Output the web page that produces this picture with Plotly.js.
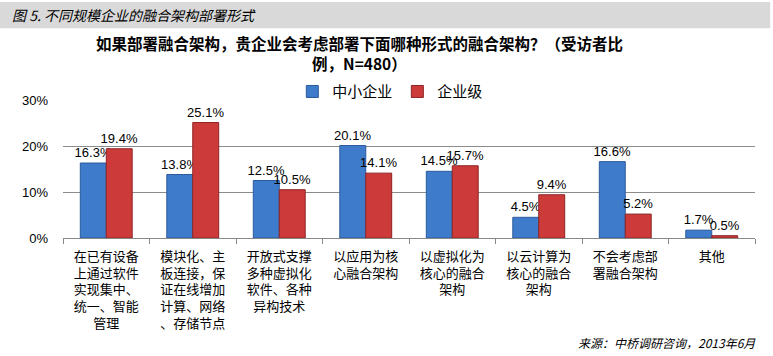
<!DOCTYPE html>
<html><head><meta charset="utf-8">
<script src="https://cdn.plot.ly/plotly-3.0.1.min.js"></script>
<style>html,body{margin:0;padding:0;background:#fff;}#chart{width:773px;height:356px;}</style>
</head><body><div id="chart"></div>
<script>
const categories = [
  "在已有设备<br>上通过软件<br>实现集中、<br>统一、智能<br>管理",
  "模块化、主<br>板连接，保<br>证在线增加<br>计算、网络<br>、存储节点",
  "开放式支撑<br>多种虚拟化<br>软件、各种<br>异构技术",
  "以应用为核<br>心融合架构",
  "以虚拟化为<br>核心的融合<br>架构",
  "以云计算为<br>核心的融合<br>架构",
  "不会考虑部<br>署融合架构",
  "其他"
];
const smeValues = [16.3, 13.8, 12.5, 20.1, 14.5, 4.5, 16.6, 1.7];
const entValues = [19.4, 25.1, 10.5, 14.1, 15.7, 9.4, 5.2, 0.5];
const seriesNames = ["中小企业", "企业级"];
const yTicks = [0, 10, 20, 30];
const yTickLabels = ["0%", "10%", "20%", "30%"];

const font = "SimSun, 'Noto Sans CJK SC', sans-serif";
const fmt = v => v.toFixed(1) + "%";

const traces = [
  {type: "bar", name: seriesNames[0], x: categories, y: smeValues,
   text: smeValues.map(fmt), textposition: "outside", cliponaxis: false, constraintext: "none",
   textfont: {size: 13, color: "#000", family: "Liberation Sans, Arial"},
   marker: {color: "#3f7bcb", line: {color: "#2a5a9c", width: 1}}},
  {type: "bar", name: seriesNames[1], x: categories, y: entValues,
   text: entValues.map(fmt), textposition: "outside", cliponaxis: false, constraintext: "none",
   textfont: {size: 13, color: "#000", family: "Liberation Sans, Arial"},
   marker: {color: "#cc3b3a", line: {color: "#8e2424", width: 1}}}
];

const layout = {
  width: 773, height: 356,
  margin: {l: 63, r: 18, t: 100, b: 118},
  paper_bgcolor: "#fff", plot_bgcolor: "#fff",
  barmode: "group", bargap: 0.4, bargroupgap: 0,
  showlegend: true,
  legend: {orientation: "h", x: 0.473, xanchor: "center", y: 1.06, yanchor: "middle",
           font: {size: 15, family: font, color: "#000"}, traceorder: "normal"},
  title: {text: "如果部署融合架构，贵企业会考虑部署下面哪种形式的融合架构？（受访者比<br>例，N=480）",
          x: 0.465, xanchor: "center", y: 0.86, yanchor: "top",
          font: {size: 15.5, family: font, color: "#000", weight: "bold"}},
  xaxis: {type: "category", tickson: "boundaries", ticks: "outside", ticklen: 5,
          tickcolor: "#888", showline: true, linecolor: "#888", showgrid: false,
          ticklabelstandoff: 6,
          tickfont: {size: 13, family: font, color: "#000"}, automargin: false},
  yaxis: {range: [0, 30], tickvals: yTicks, ticktext: yTickLabels,
          showgrid: true, gridcolor: "#8c8c8c", gridwidth: 1, zeroline: false,
          showline: false, ticks: "", ticklabelstandoff: 14,
          tickfont: {size: 13, family: "Liberation Sans, Arial", color: "#000"}},
  shapes: [
    {type: "rect", xref: "paper", yref: "paper", x0: -0.091, x1: 1.022, y0: 1.52, y1: 1.71,
     fillcolor: "#d9d9d9", line: {width: 0}, layer: "below"}
  ],
  annotations: [
    {text: "<i>图 5. 不同规模企业的融合架构部署形式</i>", xref: "paper", yref: "paper",
     x: -0.076, y: 1.615, xanchor: "left", yanchor: "middle", showarrow: false,
     font: {size: 14, family: font, color: "#000"}},
    {text: "<i>来源：中桥调研咨询，2013年6月</i>", xref: "paper", yref: "paper",
     x: 1.005, y: -0.76, xanchor: "right", yanchor: "middle", showarrow: false,
     font: {size: 12, family: font, color: "#000"}}
  ]
};

Plotly.newPlot("chart", traces, layout, {displayModeBar: false, staticPlot: true});
</script></body></html>
